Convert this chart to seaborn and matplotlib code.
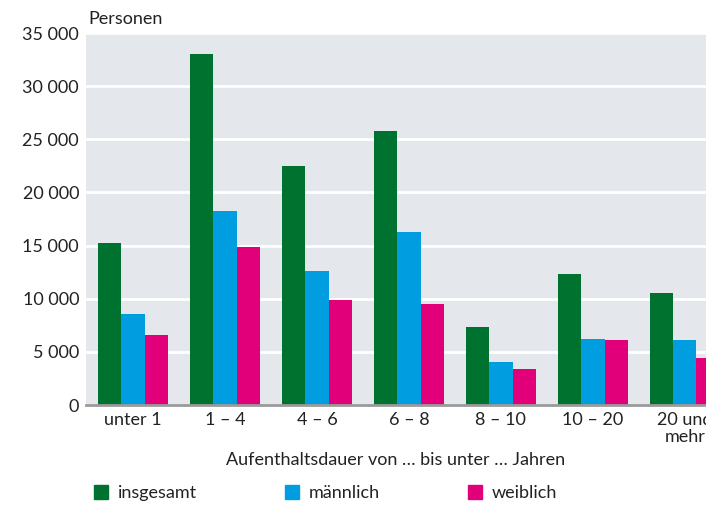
import matplotlib
matplotlib.use("Agg")
import matplotlib.pyplot as plt
import matplotlib.ticker as mticker
from matplotlib.patches import Patch
import seaborn as sns
import pandas as pd

categories = ["unter 1", "1 – 4", "4 – 6", "6 – 8", "8 – 10", "10 – 20", "20 und\nmehr"]
insgesamt = [15200, 33000, 22500, 25800, 7300, 12300, 10500]
maennlich = [8550, 18250, 12600, 16300, 4050, 6200, 6100]
weiblich = [6600, 14850, 9900, 9500, 3400, 6100, 4450]
series = ["insgesamt", "männlich", "weiblich"]
colors = ["#00722f", "#009ee0", "#e2007a"]


def build_frame():
    """
    Long table for seaborn.
    """

    rows = []
    for name, values in zip(series, [insgesamt, maennlich, weiblich]):
        for cat, v in zip(categories, values):
            rows.append({"Dauer": cat, "Gruppe": name, "Personen": v})
    return pd.DataFrame(rows)


def plot_chart(df):
    sns.set_style("white")
    plt.rcParams["font.family"] = ["Lato", "DejaVu Sans"]
    fs = 13

    fig = plt.figure(figsize=(7.06, 5.05), dpi=100)
    ax = fig.add_axes([86 / 706, 100 / 505, 1 - 86 / 706, 372 / 505])

    sns.barplot(
        data=df,
        x="Dauer",
        y="Personen",
        hue="Gruppe",
        palette=colors,
        width=0.76,
        saturation=1,
        linewidth=0,
        legend=False,
        ax=ax
    )

    ax.set_facecolor("#e4e8ec")
    ax.set_ylim(0, 35000)
    ax.set_xlim(-0.51, 6.23)
    ax.yaxis.set_major_locator(mticker.MultipleLocator(5000))
    ax.yaxis.set_major_formatter(
        mticker.FuncFormatter(lambda v, p: f"{int(v):,}".replace(",", " "))
    )
    ax.grid(axis="y", color="white", linewidth=2)
    ax.set_axisbelow(True)
    for side in ["top", "right", "left"]:
        ax.spines[side].set_visible(False)
    ax.spines["bottom"].set_color("#9a9a9a")
    ax.spines["bottom"].set_linewidth(2)
    ax.tick_params(axis="both", length=0, labelsize=fs, colors="#222222", pad=5)
    for lbl in ax.get_xticklabels():
        lbl.set_linespacing(1.1)

    ax.set_ylabel("")
    ax.set_xlabel(
        "Aufenthaltsdauer von … bis unter … Jahren",
        fontsize=fs,
        color="#222222",
        labelpad=5
    )
    ax.text(
        88 / 706, 486 / 505, "Personen",
        transform=fig.transFigure,
        fontsize=fs,
        color="#222222",
        va="center",
        ha="left"
    )

    handles = [Patch(color=c) for c in colors]
    fig.legend(
        handles,
        series,
        loc="center left",
        bbox_to_anchor=(81 / 706, 12 / 505),
        ncol=3,
        frameon=False,
        fontsize=fs,
        handlelength=0.8,
        handleheight=0.8,
        handletextpad=0.55,
        columnspacing=4.85,
        borderpad=0.2,
        labelcolor="#222222"
    )

    plt.savefig("out.png", dpi=100)
    plt.close()


plot_chart(build_frame())
